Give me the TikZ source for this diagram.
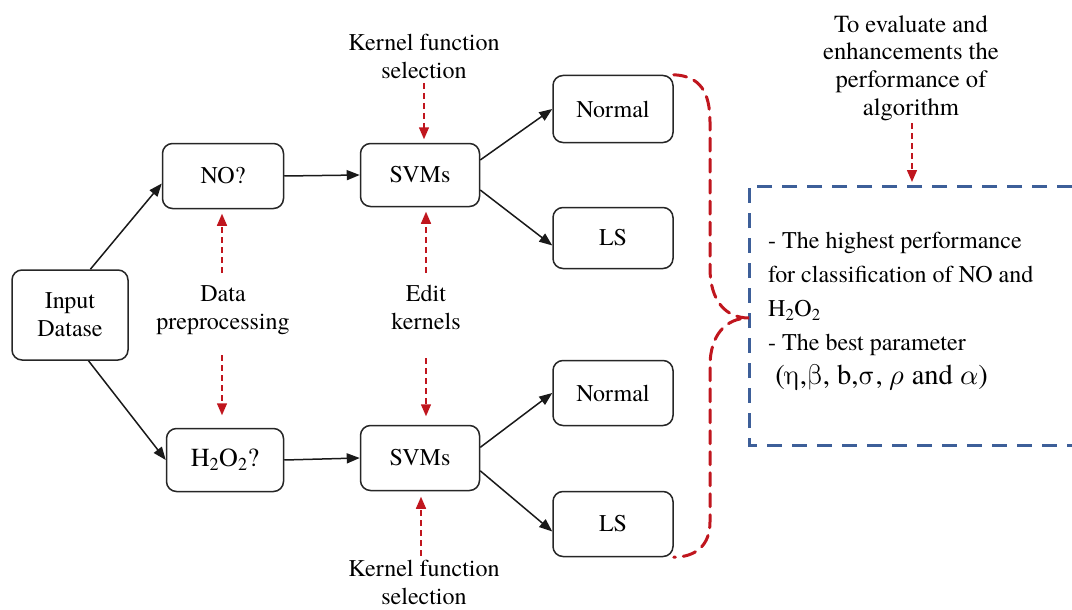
\documentclass[tikz,border=0pt]{standalone}
\usepackage{fontspec}
\setmainfont{texgyretermes}[Extension=.otf, UprightFont=*-regular, ItalicFont=*-italic, BoldFont=*-bold, BoldItalicFont=*-bolditalic]
\newfontfamily\grk{latinmodern-math.otf}
\usetikzlibrary{arrows.meta,calc}
\definecolor{dred}{HTML}{C0161E}
\definecolor{dblue}{HTML}{3D5F99}
\begin{document}
\begin{tikzpicture}[x=1pt,y=-1pt,
  box/.style={draw=black!85, line width=1.5pt, rounded corners=10pt,
    font=\fontsize{24}{28}\selectfont, align=center, inner sep=0pt},
  flow/.style={black!90, line width=1.5pt, -{Triangle[length=13pt,width=10pt]}},
  redarr/.style={dred, line width=1.5pt, dash pattern=on 6pt off 4pt,
    -{Triangle[length=12pt,width=10pt]}},
  lbl/.style={font=\fontsize{24}{28}\selectfont, align=center, inner sep=2pt}]
\useasboundingbox (0,0) rectangle (1072,610);

% main boxes
\node[box, minimum width=116pt, minimum height=90pt] (in) at (70,315) {Input\\Datase};
\node[box, minimum width=121pt, minimum height=65pt] (no) at (223,176) {NO?};
\node[box, minimum width=117pt, minimum height=63pt, font=\fontsize{26}{28}\selectfont] (h2) at (225,460) {H\textsubscript{2}O\textsubscript{2}?};
\node[box, minimum width=119pt, minimum height=63pt] (s1) at (420,175) {SVMs};
\node[box, minimum width=119pt, minimum height=65pt] (s2) at (420,458) {SVMs};
\node[box, minimum width=120pt, minimum height=67pt] (n1) at (613,109) {Normal};
\node[box, minimum width=120pt, minimum height=61pt] (l1) at (613,238) {LS};
\node[box, minimum width=120pt, minimum height=65pt] (n2) at (613,393) {Normal};
\node[box, minimum width=120pt, minimum height=65pt] (l2) at (613,524) {LS};

% black flow arrows
\draw[flow] (in.66) -- (no.187);
\draw[flow] (in.-68) -- (h2.west);
\draw[flow] (no.east) -- (s1.west);
\draw[flow] (h2.east) -- (s2.west);
\draw[flow] (s1.14) -- (n1.west);
\draw[flow] (s1.-14) -- (l1.187);
\draw[flow] (s2.10) -- (n2.west);
\draw[flow] (s2.-12) -- (l2.187);

% labels
\node[lbl] (dp) at (223,310) {Data\\preprocessing};
\node[lbl] (ek) at (426,307) {Edit\\kernels};
\node[lbl] (kt) at (424,56) {Kernel function\\selection};
\node[lbl] (kb) at (424,582) {Kernel function\\selection};
\node[lbl, font=\fontsize{24.6}{27.7}\selectfont] (te) at (911,68) {To evaluate and\\enhancements the\\performance of\\algorithm};

% red dashed arrows
\coordinate (dpT) at (222,273);
\coordinate (dpB) at (222,355);
\coordinate (ekT) at (426,273);
\coordinate (ekB) at (426,358);
\coordinate (ktB) at (424,83);
\coordinate (kbT) at (421,556);
\coordinate (teB) at (912,123);
\coordinate (bt) at (912,186);
\draw[redarr, shorten >=4.5pt] (dpT) -- (dpT |- no.south);
\draw[redarr, shorten >=12.5pt] (dpB) -- (dpB |- h2.north);
\draw[redarr, shorten >=4.5pt] (ekT) -- (ekT |- s1.south);
\draw[redarr, shorten >=8.5pt] (ekB) -- (ekB |- s2.north);
\draw[redarr, shorten >=3.5pt] (ktB) -- (ktB |- s1.north);
\draw[redarr, shorten >=5.5pt] (kbT) -- (kbT |- s2.south);
\draw[redarr, shorten >=4pt] (teB) -- (bt);

% result box (open at right)
\coordinate (bx) at (749,318);
\draw[dblue, line width=3pt, dash pattern=on 15pt off 10pt]
  (1072,186) -- (749,186) -- (749,445) -- (1072,445);
\node[anchor=north west, align=left, inner sep=0pt,
  font=\fontsize{24}{34}\selectfont] (res) at (768,232)
  {- The highest performance\\
   for classification of NO and\\
   H\textsubscript{2}O\textsubscript{2}\\
   - The best parameter\\
   {\fontsize{28.5}{35}\selectfont\ ({\grk η},{\grk β}, b,{\grk σ}, {\grk 𝜌} and {\grk 𝛼})}};

% red dashed brace
\draw[dred, line width=3pt, dash pattern=on 13pt off 8pt, line cap=round]
  (n1.north east) .. controls (700,76) and (710,92) .. (710,122)
  -- (710,268) .. controls (710,300) and (725,318) .. (bx)
  .. controls (725,318) and (710,336) .. (710,366)
  -- (710,522) .. controls (710,546) and (695,557) .. (l2.south east);
\end{tikzpicture}
\end{document}
